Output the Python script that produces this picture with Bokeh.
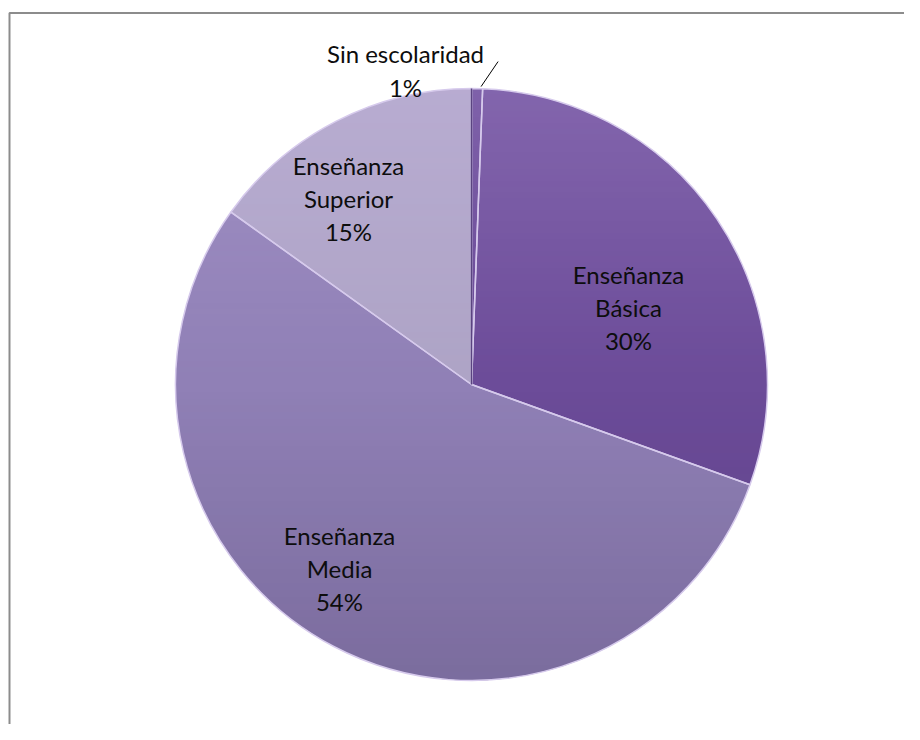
import numpy as np
from bokeh.plotting import figure
from bokeh.models import Range1d, ColumnDataSource
from bokeh.core.properties import value
from bokeh.embed import file_html
from bokeh.resources import INLINE

# ---- data ----
categories = ["Sin escolaridad", "Enseñanza Básica", "Enseñanza Media", "Enseñanza Superior"]
percent = [0.6, 29.9, 54.4, 15.1]
label_names = ["Sin escolaridad", "Enseñanza\nBásica", "Enseñanza\nMedia", "Enseñanza\nSuperior"]
colors = ["#674795", "#6c4c99", "#9080b6", "#aea4c6"]

# ---- layout ----
W, H = 904, 724
cx, cy, R = 471, 340, 296
label_pos = [(405, 654), (628, 417), (339, 156), (348, 526)]

p = figure(width=W, height=H, x_range=Range1d(0, W), y_range=Range1d(0, H),
           output_backend="svg", toolbar_location=None, min_border=0)
p.axis.visible = False
p.grid.visible = False
p.outline_line_color = None
p.background_fill_color = "white"
p.border_fill_color = "white"

frac = np.array(percent) / sum(percent)
cum = np.concatenate([[0.0], np.cumsum(frac)])
start = np.pi / 2 - 2 * np.pi * cum[1:]
end = np.pi / 2 - 2 * np.pi * cum[:-1]
src = ColumnDataSource(dict(start=start, end=end, color=colors, cat=categories))

p.wedge(x=cx, y=cy, radius=R, start_angle="start", end_angle="end",
        fill_color="color", line_color=None, source=src)

# vertical shading overlay (lighter lavender at top, darker at bottom)
n = 2 * R
yy, xx = np.mgrid[0:n, 0:n]
u = (xx + 0.5) / n * 2 - 1
v = (yy + 0.5) / n * 2 - 1
inside = (u ** 2 + v ** 2) <= 1.0
img = np.zeros((n, n), dtype=np.uint32)
view = img.view(dtype=np.uint8).reshape((n, n, 4))
top = v > 0
alpha = np.where(top, 0.20 * v, 0.17 * (-v))
view[..., 0] = np.where(top, 225, 20).astype(np.uint8)
view[..., 1] = np.where(top, 205, 10).astype(np.uint8)
view[..., 2] = np.where(top, 255, 40).astype(np.uint8)
view[..., 3] = (alpha * 255 * inside).astype(np.uint8)
p.image_rgba(image=[img], x=cx - R, y=cy - R, dw=2 * R, dh=2 * R)

p.wedge(x=cx, y=cy, radius=R, start_angle="start", end_angle="end",
        fill_color=None, line_color="#d6caec", line_width=1.5, source=src)
# darker seam at the top between the small slice and its neighbours
p.ray(x=cx, y=cy, length=R, angle=np.pi / 2, line_color="#5a4480", line_width=1.5)

# labels
texts = [f"{nm}\n{round(pc):.0f}%" for nm, pc in zip(label_names, percent)]
lsrc = ColumnDataSource(dict(x=[q[0] for q in label_pos], y=[q[1] for q in label_pos], t=texts))
p.text(x="x", y="y", text="t", source=lsrc, text_font=value("Lato"), text_font_size="24px",
       text_align="center", text_baseline="middle", text_line_height=1.14, text_color="#0d0d0d")

# leader line for the small slice
th = np.pi / 2 - 2 * np.pi * (cum[0] + cum[1]) / 2
x0 = cx + R * np.cos(th) + 4
y0 = cy + R * np.sin(th) + 2
p.line(x=[x0, x0 + 17], y=[y0, y0 + 25], line_color="black", line_width=1)

# chart area border (left and top edges visible)
p.line(x=[9, 9, W], y=[0, 711.5, 711.5], line_color="#8c8c8c", line_width=2)

open("out.html", "w").write(file_html(p, INLINE))
